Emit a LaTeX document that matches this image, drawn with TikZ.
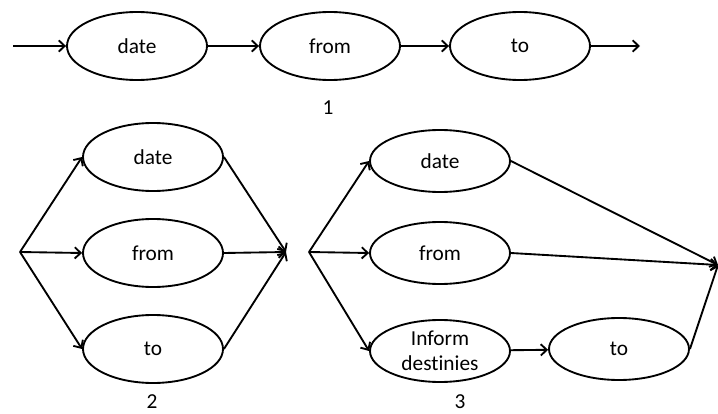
\documentclass[tikz,border=0pt]{standalone}
\usepackage{fontspec}
\setmainfont{Carlito}[Ligatures=NoCommon]
\usepackage{tikz}
\usetikzlibrary{arrows.meta, shapes.geometric}

\begin{document}
\begin{tikzpicture}[
    x=0.75pt, y=-0.75pt,
    state/.style={draw=black, line width=1.4pt, ellipse, inner sep=0pt,
        minimum width=105pt, minimum height=51pt, font=\fontsize{16}{18.5}\selectfont},
    smallstate/.style={state, minimum height=46.5pt, align=center},
    caption/.style={font=\fontsize{16}{18.5}\selectfont},
    flow/.style={draw=black, line width=1.4pt, -{Straight Barb[length=4.5pt, width=8.5pt]}}
]
\useasboundingbox (0,0) rectangle (718,414);

% ----------------------------------------------------------
% 1: sequence date -> from -> to
% ----------------------------------------------------------
\coordinate (in1)  at (13,46);
\node[state] (d1) at (137,46) {date};
\node[state] (f1) at (330,46) {from};
\node[state] (t1) at (520,46) {to};
\coordinate (out1) at (640,46);
\node[caption] (n1) at (328,108) {1};

\draw[flow] (in1) -- (d1);
\draw[flow] (d1) -- (f1);
\draw[flow] (f1) -- (t1);
\draw[flow] (t1) -- (out1);

% ----------------------------------------------------------
% 2: all three in parallel
% ----------------------------------------------------------
\coordinate (split2) at (20,252);
\node[state] (d2) at (153,157) {date};
\node[state] (f2) at (153,253) {from};
\node[state] (t2) at (153,349) {to};
\coordinate (join2) at (286,252);
\node[caption] (n2) at (152,402) {2};

\foreach \s in {d2, f2, t2} {
    \draw[flow] (split2) -- (\s.west);
    \draw[flow] (\s.east) -- (join2);
}

% ----------------------------------------------------------
% 3: parallel, "to" after "Inform destinies"
% ----------------------------------------------------------
\coordinate (split3) at (309,252);
\node[smallstate] (d3)   at (440,161) {date};
\node[smallstate] (f3)   at (440,253) {from};
\node[smallstate] (inf3) at (440,351) {Inform\\destinies};
\node[smallstate] (t3)   at (619,349) {to};
\coordinate (join3) at (718,265);
\node[caption] (n3) at (460,402) {3};

\foreach \s in {d3, f3, inf3} {
    \draw[flow] (split3) -- (\s.west);
}
\draw[flow] (inf3) -- (t3);
\draw[flow] (d3.east) -- (join3);
\draw[flow] (f3.east) -- (join3);
\draw[flow] (t3.east) -- (join3);

\end{tikzpicture}
\end{document}
